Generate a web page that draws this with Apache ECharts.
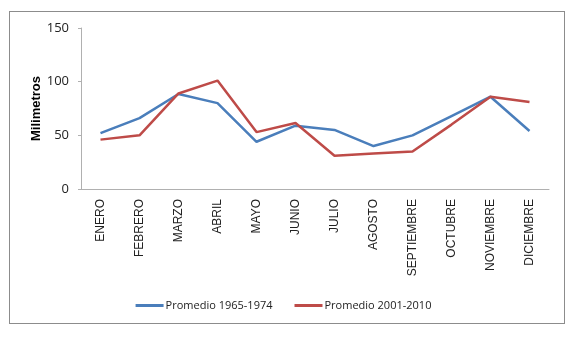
<!DOCTYPE html>
<html><head><meta charset="utf-8">
<script src="https://cdn.jsdelivr.net/npm/echarts@6/dist/echarts.min.js"></script>
<style>html,body{margin:0;padding:0;background:#fff}#c{width:567px;height:341px}
#frame{position:absolute;left:9px;top:11px;width:556px;height:313px;border:1px solid #8c8c8c;box-sizing:border-box;pointer-events:none}</style>
</head><body><div id="c"></div><div id="frame"></div>
<script>
var categories = ['ENERO','FEBRERO','MARZO','ABRIL','MAYO','JUNIO','JULIO','AGOSTO','SEPTIEMBRE','OCTUBRE','NOVIEMBRE','DICIEMBRE'];
var serie1965 = [52, 66, 88.5, 80, 44, 59, 55, 40, 50, 68, 86, 54];
var serie2001 = [46, 50, 89, 101, 53, 61.5, 31, 33, 35, 60, 86, 81];
var yTicks = [0, 50, 100, 150];
var seriesNames = ['Promedio 1965-1974', 'Promedio 2001-2010'];
var colors = ['#4a7ebb', '#be4b48'];

var chart = echarts.init(document.getElementById('c'));
chart.setOption({
  animation: false,
  grid: {left: 81, right: 18, top: 28, bottom: 152},
  legend: {
    top: 295, left: 'center', itemGap: 22, itemWidth: 28, itemHeight: 3,
    icon: 'rect',
    textStyle: {fontFamily: 'Open Sans', fontSize: 11, color: '#222', padding: [0,0,0,-3]},
    data: seriesNames
  },
  xAxis: {
    type: 'category', data: categories, boundaryGap: true,
    axisLine: {lineStyle: {color: '#b0b0b0'}},
    axisTick: {show: false},
    axisLabel: {rotate: 90, fontFamily: 'Liberation Sans', fontSize: 12, color: '#222', margin: 10}
  },
  yAxis: {
    type: 'value', min: yTicks[0], max: yTicks[yTicks.length-1], interval: 50,
    name: 'Milimetros', nameLocation: 'middle', nameGap: 38, nameMoveOverlap: false,
    nameTextStyle: {fontFamily: 'Liberation Sans', fontSize: 13, fontWeight: 'bold', color: '#000'},
    axisLine: {show: true, lineStyle: {color: '#b0b0b0'}},
    axisTick: {show: true, length: 3, lineStyle: {color: '#b0b0b0'}},
    splitLine: {show: false},
    axisLabel: {fontFamily: 'Open Sans', fontSize: 13, color: '#222', margin: 12}
  },
  series: [
    {name: seriesNames[0], type: 'line', data: serie1965, symbol: 'none', lineStyle: {width: 2.5, color: colors[0]}, itemStyle: {color: colors[0]}},
    {name: seriesNames[1], type: 'line', data: serie2001, symbol: 'none', lineStyle: {width: 2.5, color: colors[1]}, itemStyle: {color: colors[1]}}
  ]
});
</script></body></html>
